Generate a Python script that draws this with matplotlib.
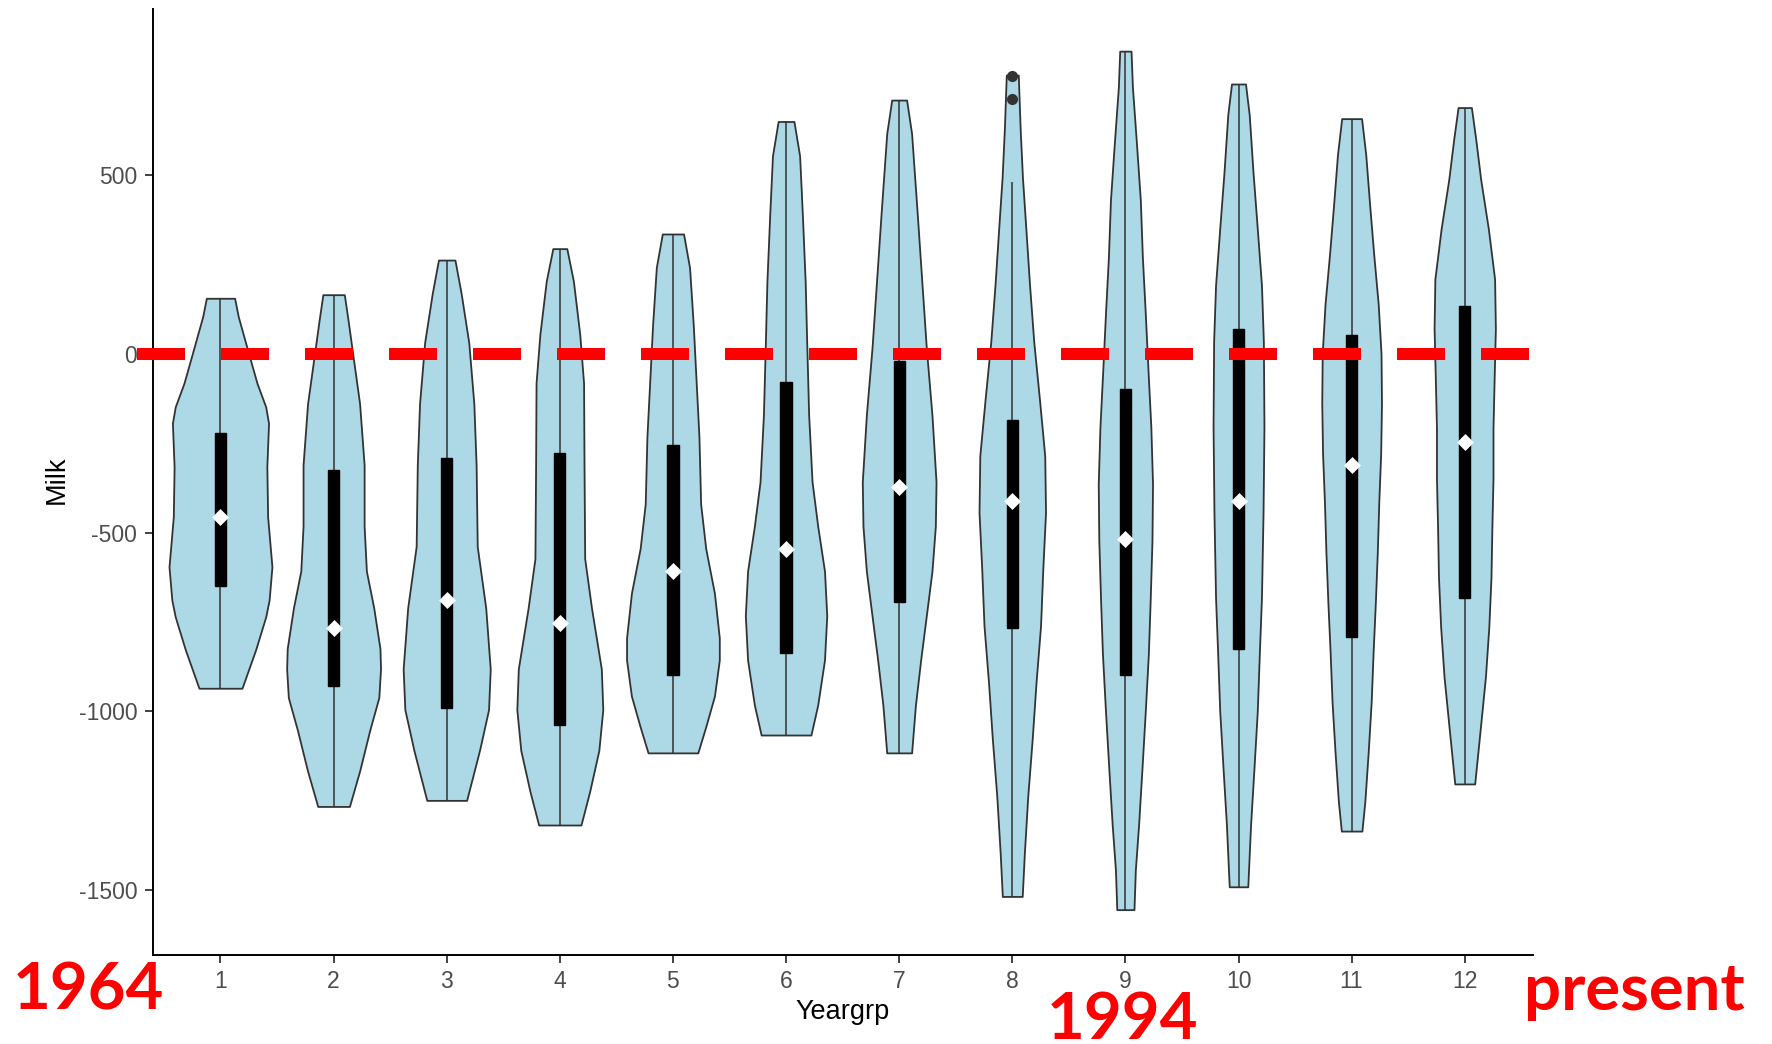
import matplotlib
matplotlib.use("Agg")
import matplotlib.pyplot as plt

# ---------------- data ----------------
yeargrp = [1, 2, 3, 4, 5, 6, 7, 8, 9, 10, 11, 12]

# violin outlines: Milk value and half-width (x units) of the density
v1_y = [156, 105, 11, -82, -148, -194, -316, -456, -596, -689, -736, -829, -936]
v1_w = [0.125, 0.157, 0.24, 0.323, 0.40, 0.425, 0.41, 0.417, 0.455, 0.43, 0.40, 0.31, 0.19]

v2_y = [166, 90, -2, -139, -311, -482, -608, -711, -825, -882, -962, -1053, -1168, -1267]
v2_w = [0.095, 0.13, 0.17, 0.23, 0.27, 0.27, 0.29, 0.355, 0.41, 0.415, 0.40, 0.32, 0.23, 0.14]

v3_y = [263, 169, 32, -139, -311, -539, -711, -882, -996, -1110, -1250]
v3_w = [0.073, 0.128, 0.195, 0.24, 0.26, 0.27, 0.345, 0.385, 0.37, 0.29, 0.176]

v4_y = [295, 204, 56, -81, -311, -573, -711, -882, -996, -1110, -1225, -1319]
v4_w = [0.062, 0.12, 0.176, 0.21, 0.214, 0.22, 0.28, 0.367, 0.38, 0.345, 0.264, 0.187]

v5_y = [336, 242, 80, -45, -232, -420, -545, -670, -795, -857, -958, -1044, -1117]
v5_w = [0.094, 0.147, 0.18, 0.20, 0.23, 0.245, 0.29, 0.367, 0.41, 0.41, 0.367, 0.29, 0.22]

v6_y = [651, 555, 392, 204, 17, -171, -358, -482, -608, -733, -857, -983, -1067]
v6_w = [0.07, 0.12, 0.144, 0.169, 0.184, 0.20, 0.23, 0.28, 0.34, 0.36, 0.34, 0.28, 0.22]

v7_y = [711, 617, 392, 204, 17, -171, -358, -482, -608, -733, -857, -983, -1117]
v7_w = [0.066, 0.11, 0.16, 0.20, 0.24, 0.29, 0.326, 0.32, 0.29, 0.24, 0.19, 0.144, 0.11]

v8_y = [781, 629, 494, 351, 192, 34, -126, -285, -444, -602, -761, -920, -1079, -1238, -1397, -1519]
v8_w = [0.053, 0.07, 0.09, 0.12, 0.153, 0.19, 0.24, 0.287, 0.294, 0.27, 0.25, 0.21, 0.176, 0.137, 0.107, 0.088]

v9_y = [848, 748, 589, 431, 272, 113, -46, -204, -364, -523, -682, -840, -1000, -1159, -1317, -1445, -1556]
v9_w = [0.05, 0.062, 0.098, 0.132, 0.15, 0.176, 0.20, 0.225, 0.24, 0.235, 0.22, 0.203, 0.176, 0.147, 0.117, 0.088, 0.076]

v10_y = [756, 669, 510, 351, 192, 34, -204, -444, -682, -840, -1000, -1159, -1317, -1492]
v10_w = [0.062, 0.095, 0.128, 0.166, 0.203, 0.22, 0.225, 0.217, 0.203, 0.184, 0.166, 0.137, 0.107, 0.082]

v11_y = [659, 558, 419, 280, 140, 1, -138, -278, -417, -556, -695, -835, -974, -1113, -1253, -1336]
v11_w = [0.088, 0.125, 0.159, 0.195, 0.235, 0.26, 0.264, 0.257, 0.24, 0.227, 0.21, 0.19, 0.173, 0.147, 0.117, 0.091]

v12_y = [690, 600, 489, 350, 210, 71, -69, -207, -347, -487, -626, -764, -904, -1044, -1204]
v12_w = [0.059, 0.098, 0.141, 0.209, 0.264, 0.271, 0.26, 0.25, 0.25, 0.24, 0.232, 0.213, 0.183, 0.139, 0.088]

# boxplot statistics
q1 = [-650, -931, -991, -1038, -899, -837, -694, -766, -900, -825, -792, -682]
median = [-456, -767, -690, -753, -608, -545, -372, -412, -518, -412, -310, -247]
q3 = [-222, -324, -291, -276, -255, -78, -20, -184, -98, 70, 54, 133]
whisker_lo = [-936, -1267, -1250, -1319, -1117, -1067, -1117, -1519, -1556, -1492, -1336, -1204]
whisker_hi = [156, 166, 263, 295, 336, 651, 711, 481, 848, 756, 659, 690]
outlier_x = [8, 8]
outlier_y = [778, 715]

ref_value = 0
y_ticks = [-1500, -1000, -500, 0, 500]
x_label = "Yeargrp"
y_label = "Milk"
annot_left = "1964"
annot_mid = "1994"
annot_right = "present"

profiles = [(v1_y, v1_w), (v2_y, v2_w), (v3_y, v3_w), (v4_y, v4_w),
            (v5_y, v5_w), (v6_y, v6_w), (v7_y, v7_w), (v8_y, v8_w),
            (v9_y, v9_w), (v10_y, v10_w), (v11_y, v11_w), (v12_y, v12_w)]

# ---------------- figure ----------------
W, H = 1772, 1044
fig = plt.figure(figsize=(W / 100, H / 100), dpi=100)
ax = fig.add_axes([152.6 / W, 1 - 955 / H, 1380 / W, 946 / H])

tick_font = "Liberation Sans"
edge_col = "#333333"

for x, (ys, ws) in zip(yeargrp, profiles):
    left = [x - w for w in ws]
    right = [x + w for w in ws]
    ax.fill_betweenx(ys, left, right, facecolor="#ADD8E6", edgecolor=edge_col,
                     linewidth=1.3, zorder=1)

ax.vlines(yeargrp, whisker_lo, q1, color=edge_col, linewidth=1.1, zorder=2)
ax.vlines(yeargrp, q3, whisker_hi, color=edge_col, linewidth=1.1, zorder=2)
ax.bar(yeargrp, [b - a for a, b in zip(q1, q3)], bottom=q1, width=0.1,
       color="black", edgecolor="black", linewidth=1.0, zorder=3)
ax.plot(yeargrp, median, linestyle="none", marker="D", markersize=8,
        markerfacecolor="white", markeredgecolor="white", markeredgewidth=0.5, zorder=4)
ax.plot(outlier_x, outlier_y, linestyle="none", marker="o", markersize=7,
        color=edge_col, zorder=4)

# red dashed reference line (extends slightly left of the axis)
ax.plot([0.262, 12.564], [ref_value, ref_value], color="#FF0000", linewidth=8.64,
        linestyle=(0, (4, 3)), dash_capstyle="butt", solid_capstyle="butt",
        clip_on=False, zorder=5)

ax.set_xlim(0.4, 12.6)
ax.set_ylim(-1683, 966)
ax.set_xticks(yeargrp)
ax.set_xticklabels([str(v) for v in yeargrp])
ax.set_yticks(y_ticks)
ax.set_yticklabels([str(v) for v in y_ticks])

for s in ["top", "right"]:
    ax.spines[s].set_visible(False)
for s in ["left", "bottom"]:
    ax.spines[s].set_linewidth(1.4)
    ax.spines[s].set_color("black")

ax.tick_params(axis="both", length=6, width=1.3, color=edge_col,
               labelcolor="#4D4D4D", labelsize=16.5, pad=5)
for lab in ax.get_xticklabels() + ax.get_yticklabels():
    lab.set_fontfamily(tick_font)

ax.set_xlabel(x_label, fontsize=19.5, fontfamily=tick_font, color="black")
ax.set_ylabel(y_label, fontsize=19.5, fontfamily=tick_font, color="black")
ax.xaxis.set_label_coords(0.5, (955 - 1019) / 946)
ax.xaxis.label.set_verticalalignment("baseline")
ax.yaxis.set_label_coords((57 - 152.6) / 1380, 0.502)
ax.yaxis.label.set_verticalalignment("center")
ax.yaxis.label.set_horizontalalignment("center")

red_kw = dict(color="#FF0000", fontsize=47, fontweight="bold", fontfamily="Lato",
              ha="left", va="baseline")
fig.text(13 / W, 1 - 1010 / H, annot_left, **red_kw)
fig.text(1047 / W, 1 - 1039 / H, annot_mid, **red_kw)
fig.text(1524 / W, 1 - 1010 / H, annot_right, **red_kw)

fig.savefig("out.png", dpi=100, facecolor="white")
